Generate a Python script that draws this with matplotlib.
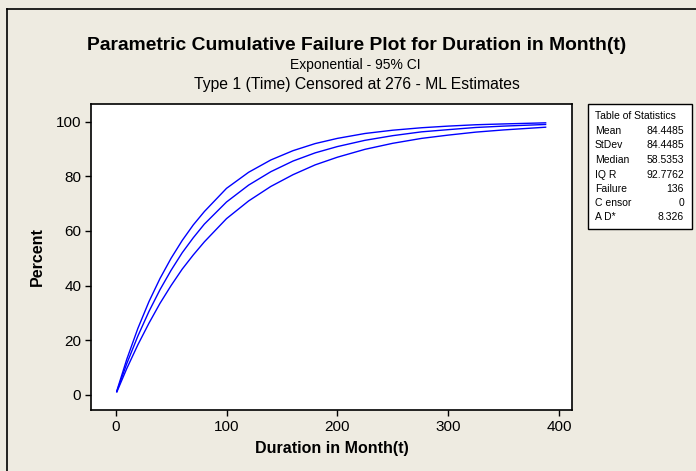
import matplotlib
matplotlib.use("Agg")
import matplotlib.pyplot as plt
from matplotlib.lines import Line2D
from matplotlib.patches import Rectangle

# valores (Percent x Duration)
duracao = [1, 10, 20, 30, 40, 50, 60, 70, 80, 100, 120, 140, 160, 180, 200,
           225, 250, 276, 300, 325, 350, 388]
pct_medio = [1.2, 11.4, 21.5, 30.5, 38.5, 45.6, 52.0, 57.5, 62.5, 70.6, 76.8,
             81.7, 85.6, 88.6, 90.9, 93.2, 94.9, 96.3, 97.1, 97.9, 98.4, 99.0]
pct_superior = [1.4, 13.0, 24.3, 34.1, 42.6, 50.0, 56.5, 62.2, 67.1, 75.6, 81.5,
                86.0, 89.4, 92.0, 93.9, 95.7, 96.9, 97.8, 98.4, 98.9, 99.2, 99.6]
pct_inferior = [1.0, 9.6, 18.3, 26.2, 33.5, 40.0, 46.0, 51.2, 56.0, 64.5, 71.0,
                76.3, 80.6, 84.2, 87.0, 89.9, 92.1, 93.9, 95.1, 96.2, 97.0, 98.0]

xticks = [0, 100, 200, 300, 400]
yticks = [0, 20, 40, 60, 80, 100]

estat_nomes = ["Mean", "StDev", "Median", "IQ R", "Failure", "C ensor", "A D*"]
estat_valores = ["84.4485", "84.4485", "58.5353", "92.7762", "136", "0", "8.326"]

fundo = "#EEEBE1"
fonte = ["Liberation Sans", "DejaVu Sans"]
plt.rcParams["font.family"] = fonte

W, H = 696, 471
fig = plt.figure(figsize=(W / 100, H / 100), dpi=100, facecolor=fundo)

def fx(px):
    return px / W

def fy(py):
    return 1 - py / H

# moldura externa (so esquerda e topo aparecem)
fig.add_artist(Line2D([fx(7), fx(7)], [fy(9), 0], color="black", lw=1.2))
fig.add_artist(Line2D([fx(7), 1], [fy(9), fy(9)], color="black", lw=1.2))

ax = fig.add_axes([fx(91), fy(410), fx(572) - fx(91), fy(104) - fy(410)])
ax.set_facecolor("white")

for serie in (pct_superior, pct_medio, pct_inferior):
    ax.plot(duracao, serie, color="#0000FF", lw=1.0)

ax.set_xlim(-22.3, 411.8)
ax.set_ylim(-5.6, 106.5)
ax.set_xticks(xticks)
ax.set_yticks(yticks)
ax.tick_params(direction="out", length=4, width=1, labelsize=11, pad=3, colors="black")
for s in ax.spines.values():
    s.set_linewidth(1.2)

ax.set_xlabel("Duration in Month(t)", fontsize=11.5, fontweight="bold", labelpad=5)
ax.set_ylabel("Percent", fontsize=11.5, fontweight="bold", labelpad=8)

# titulos
fig.text(fx(357), fy(45), "Parametric Cumulative Failure Plot for Duration in Month(t)",
         ha="center", va="center", fontsize=13.9, fontweight="bold")
fig.text(fx(355), fy(65), "Exponential - 95% CI", ha="center", va="center", fontsize=10)
fig.text(fx(357), fy(85), "Type 1 (Time) Censored at 276 - ML Estimates",
         ha="center", va="center", fontsize=11.3)

# tabela de estatisticas
fig.add_artist(Rectangle((fx(588), fy(229)), fx(692) - fx(588), fy(104) - fy(229),
                         facecolor="white", edgecolor="black", lw=1.0))
fig.text(fx(595), fy(116), "Table of Statistics", ha="left", va="center", fontsize=7.5)
linhas_y = [131, 145, 160, 175, 189, 203, 217]
for nome, valor, yy in zip(estat_nomes, estat_valores, linhas_y):
    fig.text(fx(595), fy(yy), nome, ha="left", va="center", fontsize=7.5)
    fig.text(fx(684), fy(yy), valor, ha="right", va="center", fontsize=7.5)

fig.savefig("out.png", dpi=100, facecolor=fundo)
